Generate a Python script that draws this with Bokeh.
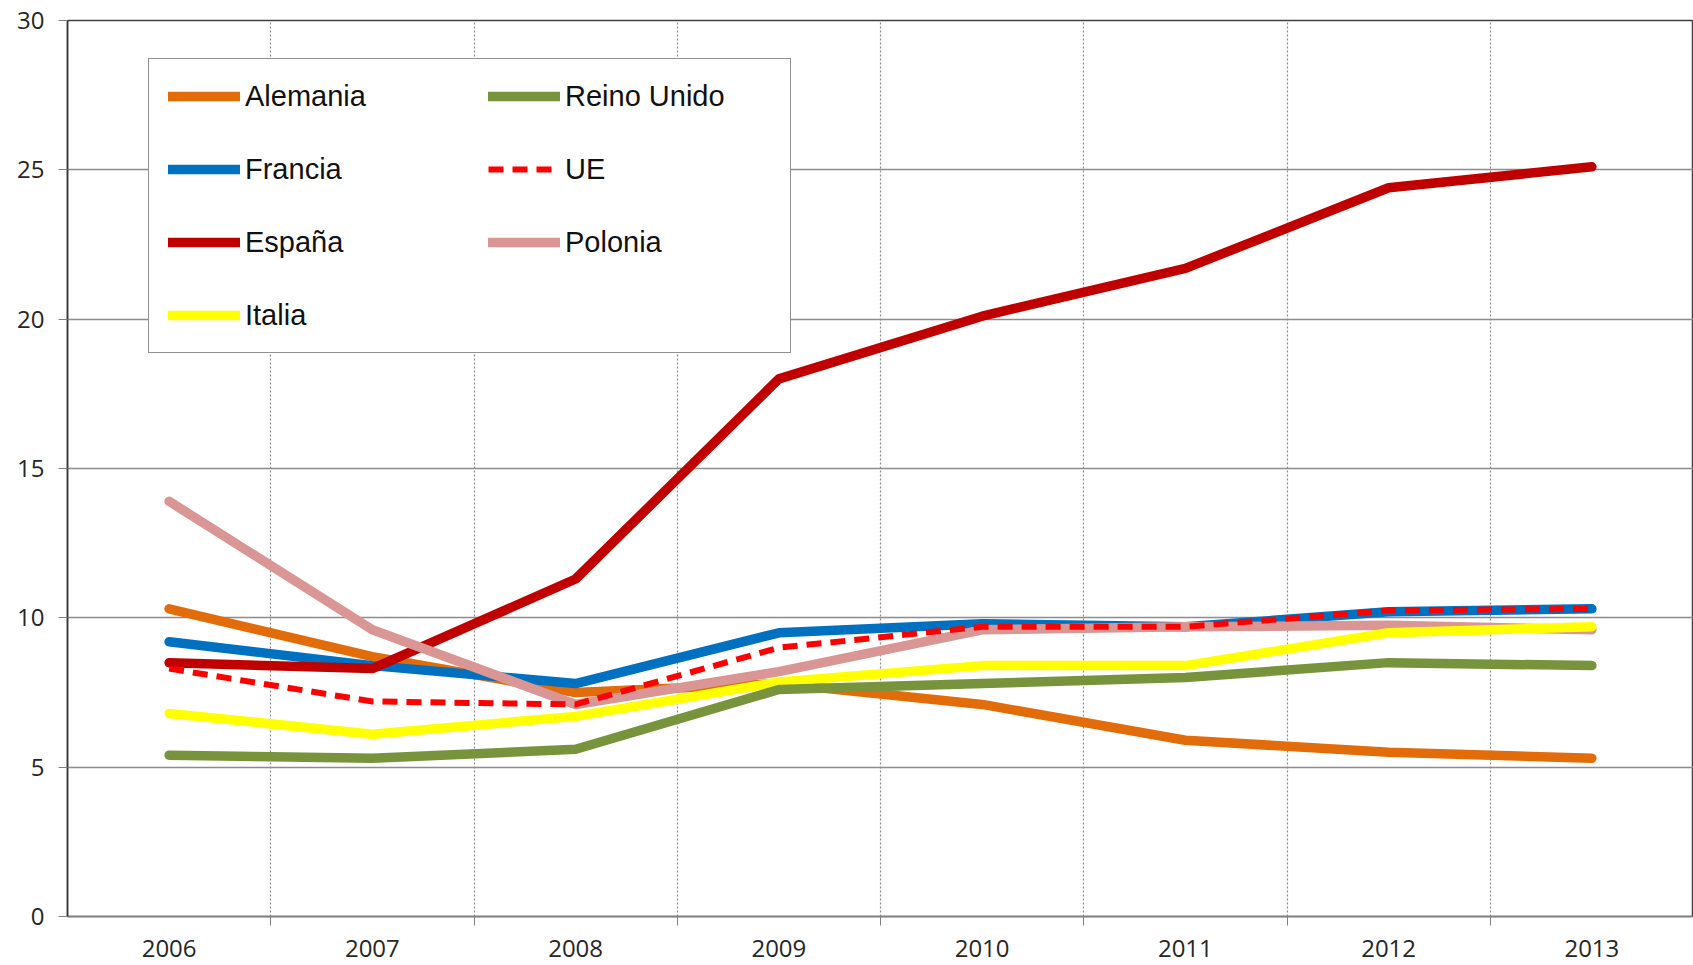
from bokeh.plotting import figure
from bokeh.models import FixedTicker, Legend, LegendItem, Range1d
from bokeh.embed import file_html
from bokeh.resources import INLINE

years = ["2006", "2007", "2008", "2009", "2010", "2011", "2012", "2013"]
alemania = [10.3, 8.7, 7.5, 7.8, 7.1, 5.9, 5.5, 5.3]
francia = [9.2, 8.4, 7.8, 9.5, 9.8, 9.7, 10.2, 10.3]
espana = [8.5, 8.3, 11.3, 18.0, 20.1, 21.7, 24.4, 25.1]
italia = [6.8, 6.1, 6.7, 7.85, 8.4, 8.4, 9.5, 9.7]
reino_unido = [5.4, 5.3, 5.6, 7.6, 7.8, 8.0, 8.5, 8.4]
ue = [8.3, 7.2, 7.1, 9.0, 9.7, 9.7, 10.25, 10.3]
polonia = [13.9, 9.6, 7.1, 8.2, 9.6, 9.7, 9.75, 9.6]
y_ticks = [0, 5, 10, 15, 20, 25, 30]

xs = list(range(len(years)))
bounds = [i + 0.5 for i in xs[:-1]]

TICK_FONT = "'Open Sans', sans-serif"
LEG_FONT = "'Liberation Sans', sans-serif"

p = figure(width=1693, height=962, output_backend="svg", toolbar_location=None,
           x_range=Range1d(-0.5, len(years) - 0.5), y_range=Range1d(0, 30),
           min_border_left=67, min_border_right=0, min_border_top=20, min_border_bottom=46)
p.background_fill_color = "white"
p.border_fill_color = "white"
p.outline_line_color = "#404040"
p.outline_line_width = 1.5

# axes
p.xaxis.ticker = FixedTicker(ticks=xs, minor_ticks=bounds)
p.xaxis.major_label_overrides = {i: y for i, y in zip(xs, years)}
p.xaxis.major_tick_line_color = None
p.xaxis.minor_tick_out = 9
p.xaxis.minor_tick_in = 0
p.xaxis.minor_tick_line_color = "#808080"
p.xaxis.axis_line_color = "#808080"
p.xaxis.axis_line_width = 1.5
p.xaxis.major_label_standoff = 14
p.xaxis.major_label_text_font = TICK_FONT
p.xaxis.major_label_text_font_size = "24px"
p.xaxis.major_label_text_color = "#262626"

p.yaxis.ticker = FixedTicker(ticks=y_ticks)
p.yaxis.minor_tick_line_color = None
p.yaxis.major_tick_out = 9
p.yaxis.major_tick_in = 0
p.yaxis.major_tick_line_color = "#808080"
p.yaxis.axis_line_color = "#333333"
p.yaxis.axis_line_width = 1.5
p.yaxis.major_label_standoff = 14
p.yaxis.major_label_text_font = TICK_FONT
p.yaxis.major_label_text_font_size = "24px"
p.yaxis.major_label_text_color = "#262626"

# grids
p.ygrid.ticker = FixedTicker(ticks=y_ticks)
p.ygrid.grid_line_color = "#8c8c8c"
p.ygrid.grid_line_width = 1.3
p.xgrid.ticker = FixedTicker(ticks=bounds)
p.xgrid.grid_line_color = "#8c8c8c"
p.xgrid.grid_line_width = 1.2
p.xgrid.grid_line_dash = "2 2"

W = 9.5
kw = dict(line_width=W, line_cap="round", line_join="round")
r_ale = p.line(xs, alemania, line_color="#E36C0A", **kw)
r_fra = p.line(xs, francia, line_color="#0070C0", **kw)
r_esp = p.line(xs, espana, line_color="#C00000", **kw)
r_pol = p.line(xs, polonia, line_color="#D99694", **kw)
r_ita = p.line(xs, italia, line_color="#FFFF00", **kw)
r_uk = p.line(xs, reino_unido, line_color="#77933C", **kw)
r_ue = p.line(xs, ue, line_color="#FF0000", line_width=6, line_dash="15 9", line_join="round")

legend = Legend(items=[
    LegendItem(label="Alemania", renderers=[r_ale]),
    LegendItem(label="Francia", renderers=[r_fra]),
    LegendItem(label="España", renderers=[r_esp]),
    LegendItem(label="Italia", renderers=[r_ita]),
    LegendItem(label="Reino Unido", renderers=[r_uk]),
    LegendItem(label="UE", renderers=[r_ue]),
    LegendItem(label="Polonia", renderers=[r_pol]),
], nrows=4, orientation="vertical")
legend.location = (81, 563)
legend.border_line_color = "#222222"
legend.border_line_width = 1.5
legend.background_fill_color = "white"
legend.background_fill_alpha = 1.0
legend.padding = 19
legend.spacing = 37
legend.glyph_width = 72
legend.glyph_height = 36
legend.label_height = 36
legend.label_width = 206
legend.label_standoff = 5
legend.label_text_font = LEG_FONT
legend.label_text_font_size = "29px"
legend.label_text_color = "#111111"
legend.label_text_baseline = "middle"
p.add_layout(legend)

open("out.html", "w").write(file_html(p, INLINE))
